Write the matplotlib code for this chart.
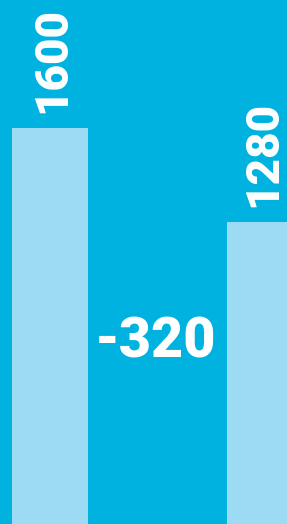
import numpy as np
import matplotlib.pyplot as plt

# values
labels = ["1600", "1280"]
values = [1600, 1280]
diff_label = "-320"
diff = values[1] - values[0]

bg = "#00b2e0"
bar_col = "#9cdbf3"

fig = plt.figure(figsize=(2.87, 5.24), dpi=100)
fig.patch.set_facecolor(bg)
ax = fig.add_axes([0, 0, 1, 1])
ax.set_facecolor(bg)

x = np.arange(len(values))
ax.bar(x, values, width=0.353, color=bar_col, edgecolor="none")

# bar labels, rotated above each bar
for xi, v, lab, dx in zip(x, values, labels, [0.012, -0.01]):
    ax.text(xi + dx, v + 52, lab, rotation=90, ha="center", va="bottom",
            color="white", fontsize=33, fontfamily="Roboto", fontweight="black")

# difference in the middle
ax.text(0.49, 872, diff_label, ha="center", va="center", color="white",
        fontsize=40, fontfamily="Roboto", fontweight="black")

ax.set_xlim(-0.2326, 1.1023)
ax.set_ylim(252, 2036)
ax.axis("off")

plt.savefig("out.png", facecolor=bg)
